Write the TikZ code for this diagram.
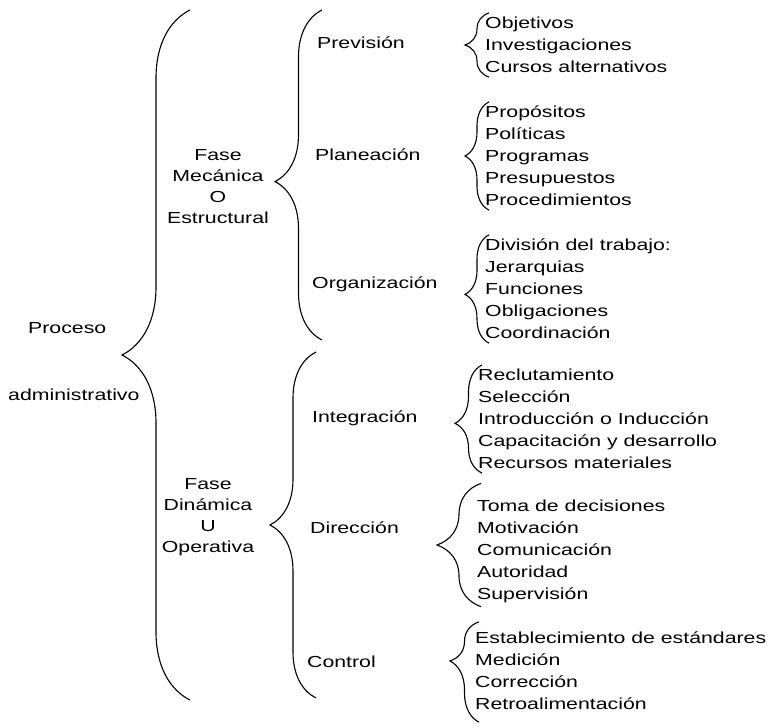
\documentclass[tikz,border=0pt]{standalone}
\usepackage{fontspec}
\setmainfont{Liberation Sans}[FakeStretch=1.33]
\usetikzlibrary{positioning, decorations.pathreplacing}
\tikzset{
  lvl/.style={anchor=west, inner sep=0pt, font=\fontsize{16}{21}\selectfont},
  fase/.style={align=center, inner sep=0pt, font=\fontsize{16}{21}\selectfont},
  items/.style={anchor=west, align=left, inner xsep=0pt, inner ysep=4pt,
                font=\fontsize{16}{22}\selectfont},
  brc/.style={decorate, decoration={brace, amplitude=#1}, line width=1.1pt},
}
\begin{document}
\begin{tikzpicture}[x=1pt, y=-1pt]
  \useasboundingbox (0,0) rectangle (778,725);
  % root
  \node[lvl] (proc) at (28,328) {Proceso};
  \node[lvl] (adm) at (8,395) {administrativo};
  \coordinate (rootTop) at (190,10);
  \coordinate (rootBot) at (190,700);
  % phases
  \node[fase] (mec) at (218,187) {Fase\\Mecánica\\O\\Estructural};
  \node[fase] (din) at (208,517) {Fase\\Dinámica\\U\\Operativa};
  \coordinate (mecTop) at (322,10);
  \coordinate (mecBot) at (322,340);
  \coordinate (dinTop) at (316,352);
  \coordinate (dinBot) at (316,698);
  % stages
  \node[lvl] (prev) at (317,43) {Previsión};
  \node[lvl] (plan) at (315,155) {Planeación};
  \node[lvl] (org) at (312,284) {Organización};
  \node[lvl] (integ) at (312,418) {Integración};
  \node[lvl] (dir) at (310,528) {Dirección};
  \node[lvl] (ctrl) at (307,662) {Control};
  % items
  \node[items] (prevItems) at (485,45)
    {Objetivos\\Investigaciones\\Cursos alternativos};
  \node[items] (planItems) at (485,156)
    {Propósitos\\Políticas\\Programas\\Presupuestos\\Procedimientos};
  \node[items] (orgItems) at (485,289)
    {División del trabajo:\\Jerarquias\\Funciones\\Obligaciones\\Coordinación};
  \node[items] (integItems) at (478,419)
    {Reclutamiento\\Selección\\Introducción o Inducción\\Capacitación y desarrollo\\Recursos materiales};
  \node[items] (dirItems) at (477,551)
    {Toma de decisiones\\Motivación\\Comunicación\\Autoridad\\Supervisión};
  \node[items] (ctrlItems) at (475,671)
    {Establecimiento de estándares\\Medición\\Corrección\\Retroalimentación};
  % braces
  \draw[brc=68pt] (rootBot) -- (rootTop);
  \draw[brc=47pt, decoration={aspect=0.48}] (mecBot) -- (mecTop);
  \draw[brc=46pt] (dinBot) -- (dinTop);
  \draw[brc=24pt] ([xshift=4pt]prevItems.south west) -- ([xshift=4pt]prevItems.north west);
  \draw[brc=24pt] ([xshift=4pt]planItems.south west) -- ([xshift=4pt]planItems.north west);
  \draw[brc=24pt, decoration={aspect=0.45}] ([xshift=4pt]orgItems.south west) -- ([xshift=4pt]orgItems.north west);
  \draw[brc=27pt, decoration={aspect=0.46}] ([xshift=4pt]integItems.south west) -- ([xshift=4pt]integItems.north west);
  \draw[brc=44pt] ([xshift=4pt]dirItems.south west) -- ([xshift=4pt,yshift=12pt]dirItems.north west);
  \draw[brc=29pt, decoration={aspect=0.61}] ([xshift=4pt,yshift=-8pt]ctrlItems.south west) -- ([xshift=4pt,yshift=6pt]ctrlItems.north west);
\end{tikzpicture}
\end{document}
